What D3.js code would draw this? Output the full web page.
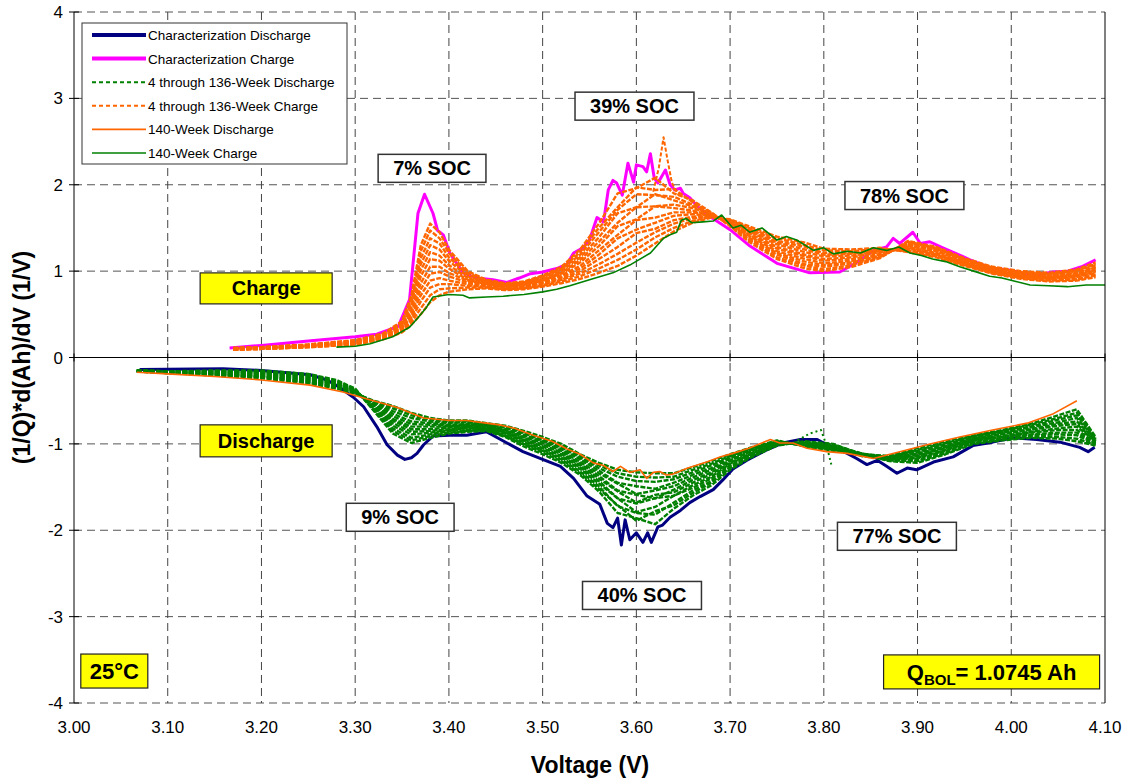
<!DOCTYPE html>
<html>
<head>
<meta charset="utf-8">
<script src="https://cdn.jsdelivr.net/npm/d3@7"></script>
<style>
body { margin: 0; background: #fff; }
text { font-family: Arial, "Liberation Sans", sans-serif; }
</style>
</head>
<body>
<svg id="chart" width="1130" height="782"></svg>
<script>
// ---- characterization charge (magenta) ----
var charChargeV = [3.166,3.20,3.25,3.30,3.323,3.346,3.358,3.367,3.374,3.383,3.388,3.394,3.401,3.415,3.43,3.447,3.462,3.475,3.487,3.50,3.515,3.526,3.533,3.543,3.55,3.558,3.565,3.57,3.575,3.579,3.585,3.591,3.597,3.60,3.607,3.611,3.615,3.619,3.623,3.631,3.636,3.641,3.647,3.65,3.657,3.665,3.68,3.70,3.72,3.75,3.785,3.817,3.835,3.853,3.867,3.874,3.881,3.895,3.903,3.913,3.927,3.948,3.956,3.977,3.999,4.023,4.045,4.06,4.075,4.09];
var charCharge = [0.11,0.14,0.19,0.24,0.27,0.36,0.67,1.67,1.89,1.67,1.47,1.42,1.21,0.98,0.92,0.90,0.87,0.92,0.97,0.99,1.03,1.08,1.21,1.27,1.36,1.62,1.57,1.94,2.05,2.02,1.88,2.25,2.03,2.23,2.21,2.15,2.36,2.08,2.02,2.17,2.00,1.94,1.96,1.90,1.85,1.75,1.62,1.48,1.30,1.09,0.98,0.99,1.10,1.24,1.28,1.38,1.32,1.45,1.32,1.34,1.27,1.17,1.13,1.04,1.01,0.95,0.99,1.00,1.05,1.13];

// ---- characterization discharge (navy) ----
var charDisV = [3.07,3.159,3.20,3.252,3.27,3.284,3.298,3.309,3.323,3.334,3.345,3.353,3.36,3.366,3.373,3.383,3.401,3.419,3.44,3.462,3.479,3.50,3.519,3.533,3.547,3.561,3.569,3.575,3.58,3.584,3.588,3.593,3.60,3.607,3.612,3.616,3.623,3.628,3.636,3.647,3.657,3.668,3.682,3.692,3.703,3.718,3.739,3.756,3.775,3.793,3.803,3.825,3.835,3.846,3.857,3.867,3.878,3.889,3.899,3.917,3.938,3.959,3.98,4.002,4.027,4.052,4.073,4.082,4.089];
var charDis = [-0.14,-0.13,-0.15,-0.20,-0.26,-0.35,-0.46,-0.57,-0.80,-1.01,-1.13,-1.18,-1.16,-1.11,-1.01,-0.91,-0.90,-0.90,-0.86,-0.99,-1.09,-1.18,-1.26,-1.40,-1.60,-1.70,-1.92,-1.97,-1.86,-2.17,-1.88,-2.11,-2.03,-2.14,-2.03,-2.14,-1.96,-1.94,-1.85,-1.77,-1.68,-1.61,-1.53,-1.42,-1.29,-1.19,-1.07,-0.99,-0.95,-0.95,-1.01,-1.11,-1.17,-1.24,-1.19,-1.26,-1.34,-1.28,-1.30,-1.21,-1.15,-1.02,-0.98,-0.93,-0.95,-0.98,-1.04,-1.09,-1.04];

// ---- 140-week charge (green) ----
var wk140ChargeV = [3.28,3.30,3.316,3.34,3.358,3.367,3.376,3.383,3.40,3.415,3.422,3.44,3.458,3.48,3.50,3.515,3.529,3.55,3.575,3.593,3.615,3.629,3.636,3.643,3.648,3.653,3.659,3.671,3.682,3.691,3.703,3.712,3.721,3.734,3.75,3.76,3.771,3.789,3.80,3.81,3.825,3.839,3.853,3.867,3.88,3.892,3.904,3.916,3.93,3.945,3.96,3.977,3.99,4.005,4.02,4.04,4.06,4.08,4.10];
var wk140Charge = [0.12,0.13,0.16,0.24,0.35,0.46,0.58,0.70,0.73,0.72,0.69,0.70,0.71,0.73,0.76,0.79,0.83,0.90,0.98,1.07,1.21,1.38,1.42,1.45,1.59,1.61,1.56,1.57,1.58,1.65,1.50,1.53,1.45,1.50,1.36,1.40,1.36,1.24,1.27,1.20,1.23,1.21,1.27,1.24,1.28,1.21,1.18,1.14,1.11,1.05,1.00,0.94,0.92,0.88,0.84,0.83,0.82,0.84,0.84];

// ---- 140-week discharge (orange) ----
var wk140DisV = [3.067,3.10,3.15,3.20,3.252,3.287,3.309,3.345,3.373,3.401,3.419,3.44,3.454,3.47,3.49,3.51,3.526,3.54,3.554,3.565,3.575,3.583,3.593,3.604,3.611,3.618,3.625,3.632,3.639,3.655,3.675,3.69,3.703,3.72,3.743,3.753,3.767,3.782,3.803,3.825,3.853,3.881,3.91,3.945,3.98,4.017,4.045,4.07];
var wk140Dis = [-0.17,-0.19,-0.22,-0.26,-0.32,-0.40,-0.47,-0.58,-0.70,-0.73,-0.73,-0.76,-0.78,-0.82,-0.90,-0.97,-1.06,-1.12,-1.22,-1.25,-1.32,-1.26,-1.33,-1.30,-1.40,-1.33,-1.32,-1.36,-1.35,-1.28,-1.21,-1.15,-1.11,-1.05,-0.95,-0.99,-0.99,-1.05,-1.09,-1.11,-1.17,-1.09,-1.01,-0.92,-0.84,-0.76,-0.65,-0.50];

// ---- 4 through 136-week curves ----
var weeks = [4,16,28,40,52,64,76,88,100,112,124,136];

var famChargeV = [3.17,3.20,3.25,3.30,3.33,3.35,3.36,3.37,3.38,3.39,3.40,3.42,3.44,3.46,3.48,3.50,3.52,3.54,3.56,3.58,3.60,3.62,3.64,3.66,3.68,3.70,3.72,3.75,3.78,3.80,3.83,3.86,3.89,3.92,3.95,3.98,4.01,4.04,4.07,4.09];
var famCharge = [
  [.11,.12,.15,.20,.28,.42,.72,1.30,1.55,1.45,1.25,1.00,.90,.86,.88,.95,1.05,1.25,1.55,1.90,1.96,2.08,1.90,1.82,1.68,1.52,1.34,1.14,1.03,1.00,1.05,1.15,1.35,1.28,1.15,1.05,1.00,.98,1.02,1.10],
  [.11,.12,.15,.20,.27,.41,.69,1.23,1.47,1.38,1.21,.98,.89,.85,.87,.94,1.03,1.22,1.50,1.74,1.97,1.94,1.95,1.80,1.67,1.53,1.36,1.16,1.06,1.02,1.07,1.16,1.34,1.27,1.14,1.04,.99,.97,1.01,1.08],
  [.11,.12,.14,.19,.27,.40,.66,1.15,1.38,1.32,1.16,.96,.88,.85,.86,.93,1.02,1.19,1.45,1.71,1.89,1.88,1.86,1.77,1.67,1.53,1.37,1.19,1.08,1.05,1.09,1.17,1.33,1.26,1.13,1.04,.98,.96,1.00,1.07],
  [.10,.11,.14,.19,.26,.38,.63,1.08,1.30,1.25,1.12,.94,.87,.84,.86,.91,1.00,1.16,1.39,1.67,1.74,1.89,1.82,1.75,1.66,1.54,1.39,1.21,1.11,1.07,1.10,1.18,1.31,1.25,1.13,1.03,.98,.95,.98,1.05],
  [.10,.11,.14,.18,.25,.37,.60,1.01,1.22,1.18,1.07,.92,.86,.83,.85,.90,.98,1.13,1.34,1.56,1.74,1.75,1.77,1.73,1.66,1.55,1.41,1.23,1.14,1.09,1.12,1.19,1.30,1.24,1.12,1.02,.97,.94,.97,1.04],
  [.10,.11,.14,.18,.25,.36,.57,.94,1.14,1.12,1.03,.90,.85,.82,.84,.89,.97,1.10,1.29,1.52,1.60,1.75,1.73,1.70,1.65,1.56,1.42,1.26,1.17,1.12,1.14,1.20,1.29,1.23,1.11,1.01,.96,.93,.96,1.02],
  [.10,.11,.13,.17,.24,.35,.53,.86,1.05,1.05,.98,.89,.85,.82,.83,.88,.95,1.06,1.24,1.42,1.59,1.62,1.68,1.68,1.65,1.56,1.44,1.28,1.19,1.14,1.16,1.22,1.28,1.21,1.10,1.01,.95,.93,.95,1.01],
  [.10,.11,.13,.17,.24,.34,.50,.79,.97,.99,.94,.87,.84,.81,.82,.87,.93,1.03,1.19,1.38,1.48,1.56,1.64,1.66,1.64,1.57,1.46,1.31,1.22,1.17,1.18,1.23,1.27,1.20,1.09,1.00,.94,.92,.94,.99],
  [.09,.10,.13,.16,.23,.33,.47,.72,.89,.92,.89,.85,.83,.80,.81,.86,.91,1.00,1.14,1.28,1.44,1.49,1.59,1.63,1.64,1.58,1.47,1.33,1.25,1.19,1.20,1.24,1.26,1.19,1.08,.99,.93,.91,.93,.98],
  [.09,.10,.12,.16,.22,.31,.44,.65,.81,.85,.85,.83,.82,.80,.81,.84,.90,.97,1.08,1.20,1.33,1.45,1.55,1.61,1.63,1.59,1.49,1.35,1.28,1.21,1.21,1.25,1.24,1.18,1.08,.98,.93,.90,.91,.96],
  [.09,.10,.12,.15,.22,.30,.41,.57,.72,.79,.80,.81,.81,.79,.80,.83,.88,.94,1.03,1.13,1.25,1.39,1.50,1.58,1.63,1.59,1.50,1.38,1.30,1.24,1.23,1.26,1.23,1.17,1.07,.98,.92,.89,.90,.95],
  [.09,.10,.12,.15,.21,.29,.38,.50,.64,.72,.76,.79,.80,.78,.79,.82,.86,.91,.98,1.06,1.18,1.32,1.46,1.56,1.62,1.60,1.52,1.40,1.33,1.26,1.25,1.27,1.22,1.16,1.06,.97,.91,.88,.89,.93]
];
// one noisy excursion of a weekly charge curve near 3.63 V
var spikeChargeV = [3.618,3.624,3.629,3.633,3.638,3.645];
var spikeCharge = [1.92,2.20,2.55,2.30,2.02,1.88];

var famDisV = [3.067,3.10,3.15,3.20,3.25,3.28,3.30,3.32,3.34,3.36,3.38,3.40,3.42,3.44,3.46,3.48,3.50,3.52,3.54,3.56,3.58,3.60,3.62,3.64,3.66,3.68,3.70,3.72,3.75,3.78,3.81,3.84,3.87,3.90,3.93,3.96,3.99,4.02,4.05,4.07,4.09];
var famDis = [
  [-.15,-.16,-.15,-.15,-.19,-.26,-.36,-.62,-.88,-.99,-.93,-.88,-.86,-.85,-.92,-1.03,-1.12,-1.22,-1.36,-1.55,-1.80,-1.86,-1.93,-1.75,-1.60,-1.48,-1.30,-1.17,-1.02,-.97,-1.00,-1.12,-1.20,-1.22,-1.12,-1.00,-.96,-.93,-.94,-.97,-1.02],
  [-.15,-.16,-.16,-.16,-.20,-.27,-.37,-.61,-.85,-.96,-.91,-.87,-.85,-.84,-.91,-1.01,-1.10,-1.20,-1.34,-1.52,-1.71,-1.89,-1.78,-1.71,-1.57,-1.45,-1.28,-1.16,-1.01,-.98,-1.01,-1.13,-1.19,-1.20,-1.11,-.99,-.95,-.92,-.92,-.94,-1.01],
  [-.15,-.16,-.16,-.17,-.21,-.28,-.37,-.60,-.82,-.93,-.89,-.85,-.84,-.84,-.90,-1.00,-1.08,-1.18,-1.32,-1.49,-1.72,-1.80,-1.82,-1.68,-1.54,-1.43,-1.27,-1.15,-1.01,-.98,-1.01,-1.11,-1.19,-1.19,-1.09,-.98,-.94,-.90,-.89,-.90,-1.00],
  [-.15,-.17,-.17,-.17,-.22,-.29,-.38,-.59,-.79,-.89,-.87,-.84,-.82,-.83,-.88,-.98,-1.07,-1.16,-1.29,-1.46,-1.63,-1.79,-1.73,-1.60,-1.51,-1.40,-1.25,-1.14,-1.00,-.99,-1.02,-1.12,-1.18,-1.17,-1.08,-.97,-.93,-.89,-.87,-.87,-.99],
  [-.15,-.17,-.17,-.18,-.23,-.30,-.38,-.58,-.76,-.86,-.85,-.83,-.81,-.82,-.87,-.96,-1.05,-1.14,-1.27,-1.43,-1.63,-1.69,-1.63,-1.60,-1.48,-1.38,-1.23,-1.13,-1.00,-.99,-1.03,-1.14,-1.18,-1.16,-1.07,-.96,-.92,-.87,-.84,-.84,-.98],
  [-.15,-.17,-.18,-.19,-.24,-.31,-.39,-.57,-.73,-.83,-.83,-.81,-.80,-.81,-.86,-.95,-1.03,-1.12,-1.25,-1.40,-1.55,-1.68,-1.59,-1.56,-1.45,-1.35,-1.22,-1.12,-.99,-1.00,-1.04,-1.11,-1.17,-1.14,-1.05,-.95,-.91,-.86,-.82,-.80,-.97],
  [-.16,-.17,-.18,-.20,-.25,-.31,-.39,-.55,-.71,-.80,-.80,-.80,-.79,-.80,-.85,-.93,-1.01,-1.10,-1.23,-1.37,-1.54,-1.59,-1.63,-1.53,-1.42,-1.33,-1.20,-1.10,-.99,-1.00,-1.04,-1.12,-1.17,-1.13,-1.04,-.95,-.89,-.84,-.79,-.77,-.97],
  [-.16,-.17,-.19,-.21,-.26,-.32,-.40,-.54,-.68,-.77,-.78,-.79,-.78,-.79,-.84,-.92,-.99,-1.08,-1.21,-1.34,-1.46,-1.58,-1.54,-1.49,-1.39,-1.30,-1.19,-1.09,-.98,-1.01,-1.05,-1.13,-1.16,-1.11,-1.03,-.94,-.88,-.83,-.77,-.74,-.96],
  [-.16,-.17,-.19,-.22,-.27,-.33,-.40,-.53,-.65,-.74,-.76,-.78,-.77,-.78,-.83,-.90,-.97,-1.06,-1.18,-1.31,-1.45,-1.49,-1.52,-1.45,-1.36,-1.28,-1.17,-1.08,-.98,-1.01,-1.06,-1.11,-1.16,-1.10,-1.02,-.93,-.87,-.81,-.75,-.70,-.95],
  [-.16,-.18,-.20,-.22,-.28,-.34,-.41,-.52,-.62,-.70,-.74,-.76,-.75,-.78,-.81,-.88,-.96,-1.04,-1.16,-1.28,-1.38,-1.43,-1.44,-1.41,-1.33,-1.25,-1.15,-1.07,-.97,-1.02,-1.07,-1.12,-1.15,-1.08,-1.00,-.92,-.86,-.80,-.72,-.67,-.94],
  [-.16,-.18,-.20,-.23,-.29,-.35,-.41,-.51,-.59,-.67,-.72,-.75,-.74,-.77,-.80,-.87,-.94,-1.02,-1.14,-1.25,-1.34,-1.38,-1.39,-1.38,-1.30,-1.23,-1.14,-1.06,-.97,-1.02,-1.07,-1.13,-1.15,-1.07,-.99,-.91,-.85,-.78,-.70,-.64,-.93],
  [-.16,-.18,-.21,-.24,-.30,-.36,-.42,-.50,-.56,-.64,-.70,-.73,-.73,-.76,-.79,-.85,-.92,-1.00,-1.12,-1.22,-1.30,-1.33,-1.34,-1.34,-1.27,-1.20,-1.12,-1.05,-.96,-1.03,-1.08,-1.12,-1.14,-1.05,-.97,-.90,-.84,-.77,-.67,-.60,-.92]
];
// stray weekly discharge points near 3.80 V
var strayDisV = [3.772,3.785,3.797,3.803,3.808];
var strayDis = [-0.96,-0.88,-0.84,-1.02,-1.24];

// axis ticks
var xTicks = [3.00,3.10,3.20,3.30,3.40,3.50,3.60,3.70,3.80,3.90,4.00,4.10];
var yTicks = [-4,-3,-2,-1,0,1,2,3,4];

// boxed labels: [text, voltage, value]
var socLabels = [
  ['7% SOC', 3.382, 2.19],
  ['39% SOC', 3.598, 2.91],
  ['78% SOC', 3.886, 1.875],
  ['9% SOC', 3.348, -1.85],
  ['40% SOC', 3.606, -2.755],
  ['77% SOC', 3.878, -2.07]
];
var legendNames = ['Characterization Discharge','Characterization Charge','4 through 136-Week Discharge','4 through 136-Week Charge','140-Week Discharge','140-Week Charge'];

var svg = d3.select('#chart');
var plotL = 74, plotR = 1105, plotT = 12, plotB = 703;
var x = d3.scaleLinear().domain([3.0, 4.1]).range([plotL, plotR]);
var y = d3.scaleLinear().domain([-4, 4]).range([plotB, plotT]);

svg.append('rect').attr('width', 1130).attr('height', 782).attr('fill', '#fff');

// grid
var grid = svg.append('g');
yTicks.forEach(function(t) {
  if (t == 0) return;
  grid.append('line').attr('x1', plotL).attr('x2', plotR)
    .attr('y1', y(t)).attr('y2', y(t))
    .attr('stroke', '#555').attr('stroke-dasharray', '8,5');
});
xTicks.forEach(function(t) {
  if (t == 3.0 || t == 4.1) return;
  grid.append('line').attr('y1', plotT).attr('y2', plotB)
    .attr('x1', x(t)).attr('x2', x(t))
    .attr('stroke', '#444').attr('stroke-dasharray', '8,5');
});

function series(V, vals, color, width, dash) {
  var line = d3.line()
    .x(function(d, i) { return x(V[i]); })
    .y(function(d) { return y(d); });
  var p = svg.append('path').datum(vals)
    .attr('d', line)
    .attr('fill', 'none')
    .attr('stroke', color)
    .attr('stroke-width', width)
    .attr('stroke-linejoin', 'round');
  if (dash) p.attr('stroke-dasharray', dash);
  return p;
}

var navy = '#000080', magenta = '#ff00ff', green = '#008000', orange = '#ff6600';
var famDash = '5,1.5';

series(charDisV, charDis, navy, 3);
series(charChargeV, charCharge, magenta, 3);
famDis.forEach(function(c) { series(famDisV, c, green, 2.4, famDash); });
series(strayDisV, strayDis, green, 2, '2,3');
famCharge.forEach(function(c) { series(famChargeV, c, orange, 2.4, famDash); });
series(spikeChargeV, spikeCharge, orange, 2, '4,2');
series(wk140DisV, wk140Dis, orange, 1.6);
series(wk140ChargeV, wk140Charge, green, 1.6);

// axes
svg.append('line').attr('x1', plotL).attr('x2', plotL).attr('y1', plotT).attr('y2', plotB)
  .attr('stroke', '#000');
svg.append('line').attr('x1', plotR).attr('x2', plotR).attr('y1', plotT).attr('y2', plotB)
  .attr('stroke', '#000');
svg.append('line').attr('x1', plotL).attr('x2', plotR).attr('y1', y(0)).attr('y2', y(0))
  .attr('stroke', '#000');

yTicks.forEach(function(t) {
  svg.append('line').attr('x1', plotL - 5).attr('x2', plotL + 5)
    .attr('y1', y(t)).attr('y2', y(t)).attr('stroke', '#000');
  svg.append('text').attr('x', plotL - 11).attr('y', y(t) + 6)
    .attr('text-anchor', 'end').attr('font-size', 17).text(t);
});
xTicks.forEach(function(t) {
  svg.append('line').attr('x1', x(t)).attr('x2', x(t))
    .attr('y1', y(0) - 4).attr('y2', y(0) + 4).attr('stroke', '#000');
  svg.append('text').attr('x', x(t)).attr('y', 733)
    .attr('text-anchor', 'middle').attr('font-size', 17).text(d3.format('.2f')(t));
});

svg.append('text').attr('x', 590).attr('y', 773).attr('text-anchor', 'middle')
  .attr('font-size', 23).attr('font-weight', 'bold').text('Voltage (V)');
svg.append('text').attr('transform', 'translate(30,' + y(0) + ') rotate(-90)')
  .attr('text-anchor', 'middle').attr('font-size', 23).attr('font-weight', 'bold')
  .text('(1/Q)*d(Ah)/dV (1/V)');

// legend
var lg = svg.append('g');
lg.append('rect').attr('x', 82).attr('y', 23).attr('width', 265).attr('height', 141)
  .attr('fill', '#fff').attr('stroke', '#333');
var lstyle = [[navy, 4, null], [magenta, 4, null], [green, 2, '4,3'], [orange, 2, '4,3'], [orange, 1.6, null], [green, 1.6, null]];
legendNames.forEach(function(n, i) {
  var ly = 35 + i * 23.6;
  var l = lg.append('line').attr('x1', 92).attr('x2', 146).attr('y1', ly).attr('y2', ly)
    .attr('stroke', lstyle[i][0]).attr('stroke-width', lstyle[i][1]);
  if (lstyle[i][2]) l.attr('stroke-dasharray', lstyle[i][2]);
  lg.append('text').attr('x', 148).attr('y', ly + 5).attr('font-size', 13.5).text(n);
});

// SOC labels
socLabels.forEach(function(s) {
  var g = svg.append('g');
  var t = g.append('text').attr('x', x(s[1])).attr('y', y(s[2]) + 7)
    .attr('text-anchor', 'middle').attr('font-size', 20).attr('font-weight', 'bold').text(s[0]);
  var w = t.node().getComputedTextLength() + 30;
  g.insert('rect', 'text').attr('x', x(s[1]) - w / 2).attr('y', y(s[2]) - 14)
    .attr('width', w).attr('height', 28).attr('fill', '#fff')
    .attr('stroke', '#333').attr('stroke-width', 1.5);
});

function yellowBox(cx, cy, w, h) {
  svg.append('rect').attr('x', cx - w / 2).attr('y', cy - h / 2).attr('width', w).attr('height', h)
    .attr('fill', '#ffff00').attr('stroke', '#222').attr('stroke-width', 1.2);
}
yellowBox(x(3.205), y(0.80), 132, 31);
svg.append('text').attr('x', x(3.205)).attr('y', y(0.80) + 7).attr('text-anchor', 'middle')
  .attr('font-size', 20).attr('font-weight', 'bold').text('Charge');
yellowBox(x(3.205), y(-0.965), 132, 32);
svg.append('text').attr('x', x(3.205)).attr('y', y(-0.965) + 7).attr('text-anchor', 'middle')
  .attr('font-size', 20).attr('font-weight', 'bold').text('Discharge');
yellowBox(x(3.043), y(-3.63), 67, 34);
svg.append('text').attr('x', x(3.043)).attr('y', y(-3.63) + 8).attr('text-anchor', 'middle')
  .attr('font-size', 22).attr('font-weight', 'bold').text('25°C');
yellowBox(x(3.979), y(-3.64), 216, 34);
var q = svg.append('text').attr('x', x(3.979)).attr('y', y(-3.64) + 8).attr('text-anchor', 'middle')
  .attr('font-size', 22).attr('font-weight', 'bold');
q.append('tspan').text('Q');
q.append('tspan').attr('font-size', 15).attr('dy', 5).text('BOL');
q.append('tspan').attr('dy', -5).text('= 1.0745 Ah');
</script>
</body>
</html>
